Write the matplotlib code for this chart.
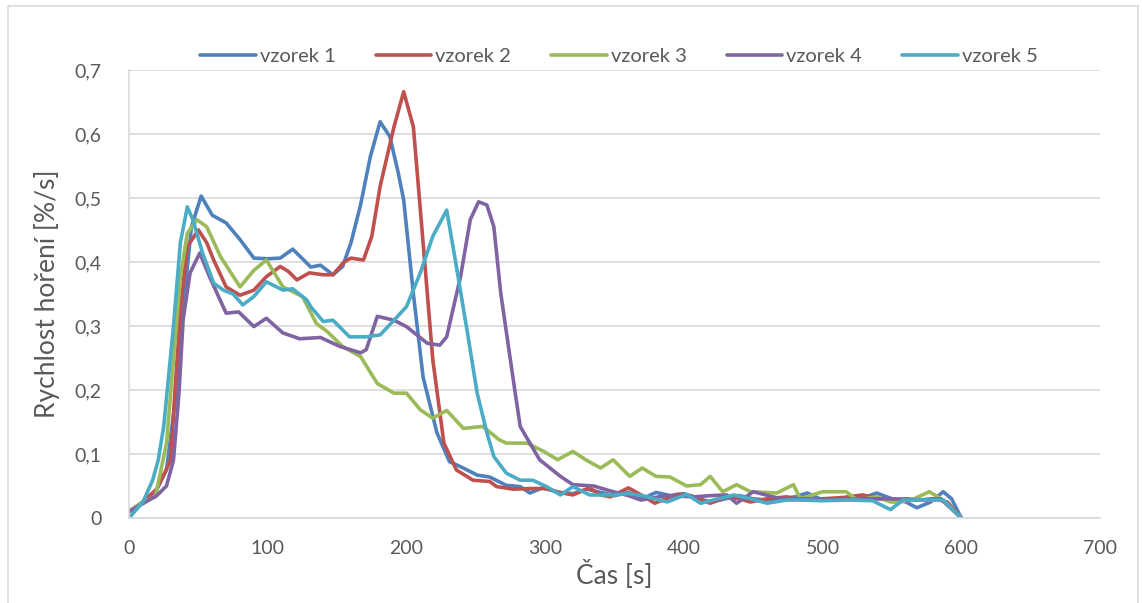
import matplotlib.pyplot as plt
from matplotlib.patches import Rectangle
from matplotlib.ticker import FuncFormatter, MultipleLocator

plt.rcParams['font.family'] = ['Lato', 'DejaVu Sans']

# data (time [s], burning rate [%/s])
labels = ["vzorek 1", "vzorek 2", "vzorek 3", "vzorek 4", "vzorek 5"]
colors = ["#4F81BD", "#C0504D", "#9BBB59", "#8064A2", "#4BACC6"]

t1 = [0, 10, 20, 27, 34, 40, 45, 52, 60, 70, 80, 90, 100, 109, 118, 125, 131, 138, 147, 154,
      160, 167, 174, 181, 188, 194, 198, 205, 212, 222, 231, 241, 251, 260, 272, 282, 289, 298,
      310, 320, 330, 340, 350, 360, 370, 380, 390, 400, 410, 420, 430, 440, 450, 460, 470, 480,
      489, 500, 510, 520, 530, 539, 550, 560, 568, 578, 587, 593, 600]
v1 = [0.01, 0.025, 0.045, 0.075, 0.195, 0.35, 0.455, 0.503, 0.473, 0.461, 0.435, 0.406, 0.405,
      0.406, 0.42, 0.405, 0.392, 0.395, 0.38, 0.393, 0.43, 0.49, 0.565, 0.619, 0.596, 0.54, 0.497,
      0.35, 0.22, 0.133, 0.088, 0.078, 0.067, 0.064, 0.051, 0.049, 0.039, 0.047, 0.04, 0.038,
      0.045, 0.04, 0.035, 0.04, 0.03, 0.04, 0.035, 0.038, 0.03, 0.025, 0.03, 0.035, 0.03, 0.028,
      0.03, 0.033, 0.039, 0.028, 0.03, 0.03, 0.032, 0.039, 0.03, 0.025, 0.016, 0.025, 0.041,
      0.03, 0.0]

t2 = [0, 10, 20, 30, 33, 37, 42, 50, 56, 61, 70, 80, 90, 99, 109, 115, 121, 130, 140, 147, 155,
      160, 169, 175, 181, 191, 198, 205, 212, 219, 227, 236, 248, 260, 265, 277, 290, 301, 310,
      320, 332, 340, 347, 360, 370, 379, 395, 405, 419, 431, 440, 448, 460, 474, 485, 500, 515,
      529, 540, 550, 560, 570, 580, 590, 600]
v2 = [0.01, 0.025, 0.045, 0.09, 0.195, 0.325, 0.424, 0.45, 0.43, 0.403, 0.361, 0.348, 0.356,
      0.377, 0.393, 0.385, 0.372, 0.383, 0.38, 0.38, 0.4, 0.406, 0.403, 0.44, 0.518, 0.611, 0.666,
      0.611, 0.43, 0.247, 0.117, 0.075, 0.059, 0.057, 0.049, 0.045, 0.046, 0.046, 0.04, 0.036,
      0.047, 0.036, 0.033, 0.047, 0.035, 0.023, 0.037, 0.035, 0.023, 0.033, 0.03, 0.025, 0.03,
      0.033, 0.028, 0.03, 0.032, 0.036, 0.03, 0.028, 0.03, 0.028, 0.03, 0.025, 0.0]

t3 = [0, 10, 19, 27, 32, 37, 42, 49, 56, 66, 80, 90, 99, 111, 125, 135, 143, 154, 167, 179, 191,
      200, 210, 219, 229, 241, 255, 267, 272, 287, 299, 309, 320, 330, 340, 349, 361, 370, 380,
      390, 402, 412, 419, 428, 438, 448, 467, 479, 484, 500, 517, 525, 539, 549, 556, 566, 577,
      587, 600]
v3 = [0.01, 0.025, 0.033, 0.117, 0.247, 0.377, 0.445, 0.466, 0.455, 0.408, 0.361, 0.387, 0.403,
      0.361, 0.346, 0.304, 0.291, 0.268, 0.252, 0.21, 0.195, 0.195, 0.169, 0.156, 0.168, 0.14,
      0.143, 0.122, 0.117, 0.117, 0.104, 0.091, 0.104, 0.09, 0.078, 0.091, 0.065, 0.078, 0.065,
      0.064, 0.05, 0.052, 0.065, 0.041, 0.052, 0.041, 0.039, 0.052, 0.03, 0.041, 0.041, 0.028,
      0.033, 0.025, 0.025, 0.03, 0.041, 0.028, 0.0]

t4 = [0, 12, 20, 27, 32, 36, 39, 44, 51, 58, 70, 79, 90, 99, 111, 123, 138, 152, 167, 171, 179,
      191, 200, 215, 224, 229, 239, 246, 252, 258, 263, 268, 277, 282, 296, 311, 320, 335, 349,
      360, 369, 387, 407, 420, 431, 438, 450, 470, 490, 510, 530, 550, 570, 585, 600]
v4 = [0.01, 0.025, 0.035, 0.05, 0.09, 0.195, 0.31, 0.383, 0.414, 0.377, 0.32, 0.322, 0.299,
      0.312, 0.289, 0.28, 0.282, 0.268, 0.258, 0.263, 0.315, 0.309, 0.299, 0.273, 0.27, 0.283,
      0.377, 0.466, 0.494, 0.489, 0.455, 0.351, 0.216, 0.143, 0.091, 0.065, 0.052, 0.05, 0.041,
      0.035, 0.028, 0.035, 0.033, 0.035, 0.036, 0.023, 0.041, 0.03, 0.03, 0.028, 0.03, 0.03,
      0.028, 0.03, 0.0]

t5 = [0, 10, 17, 21, 25, 32, 37, 42, 46, 53, 61, 68, 75, 82, 90, 99, 111, 118, 128, 131, 140,
      147, 159, 171, 181, 191, 200, 210, 219, 229, 236, 244, 251, 258, 263, 272, 282, 291, 301,
      311, 320, 332, 349, 360, 370, 388, 402, 412, 425, 436, 448, 460, 474, 484, 500, 520, 536,
      549, 558, 570, 587, 600]
v5 = [0.0, 0.025, 0.059, 0.09, 0.143, 0.299, 0.43, 0.486, 0.466, 0.414, 0.367, 0.356, 0.35,
      0.333, 0.346, 0.369, 0.356, 0.358, 0.341, 0.33, 0.307, 0.309, 0.283, 0.283, 0.286, 0.309,
      0.33, 0.383, 0.44, 0.481, 0.393, 0.289, 0.195, 0.133, 0.096, 0.07, 0.059, 0.059, 0.049,
      0.036, 0.049, 0.036, 0.036, 0.038, 0.035, 0.025, 0.037, 0.023, 0.03, 0.036, 0.03, 0.023,
      0.028, 0.028, 0.027, 0.028, 0.027, 0.013, 0.028, 0.028, 0.028, 0.0]

times = [t1, t2, t3, t4, t5]
values = [v1, v2, v3, v4, v5]

text_col = "#595959"
grid_col = "#D9D9D9"

fig = plt.figure(figsize=(11.42, 6.03), dpi=100)
ax = fig.add_axes([0.113, 0.141, 0.8502, 0.743])

for t, v, lab, c in zip(times, values, labels, colors):
    ax.plot(t, v, color=c, lw=2.6, label=lab, solid_joinstyle="round", solid_capstyle="round")

ax.set_xlim(0, 700)
ax.set_ylim(0, 0.7)
ax.xaxis.set_major_locator(MultipleLocator(100))
ax.yaxis.set_major_locator(MultipleLocator(0.1))
ax.yaxis.set_major_formatter(FuncFormatter(lambda y, p: "0" if abs(y) < 1e-9 else f"{y:.1f}".replace(".", ",")))

ax.grid(axis="y", color=grid_col, lw=1.2)
ax.set_axisbelow(True)
for s in ["top", "right"]:
    ax.spines[s].set_visible(False)
ax.spines["left"].set_color(grid_col)
ax.spines["bottom"].set_color(grid_col)
ax.spines["left"].set_linewidth(1.2)
ax.spines["bottom"].set_linewidth(1.2)
ax.tick_params(length=0, labelsize=14, labelcolor=text_col)
ax.tick_params(axis="x", pad=16)
ax.tick_params(axis="y", pad=20)

ax.set_xlabel("Čas [s]", fontsize=19, color=text_col, labelpad=2)
ax.set_ylabel("Rychlost hoření [%/s]", fontsize=19, color=text_col, labelpad=10)

fig.legend(loc="center", bbox_to_anchor=(0.542, 0.907), ncol=5, frameon=False,
           fontsize=14.5, handlelength=2.75, columnspacing=2.0, handletextpad=0.2,
           labelcolor=text_col)

# outer chart border
fig.patches.append(Rectangle((8 / 1142, -0.01), 1130 / 1142, 1.0, transform=fig.transFigure,
                             fill=False, edgecolor=grid_col, lw=1.2))

fig.savefig("out.png", dpi=100)
